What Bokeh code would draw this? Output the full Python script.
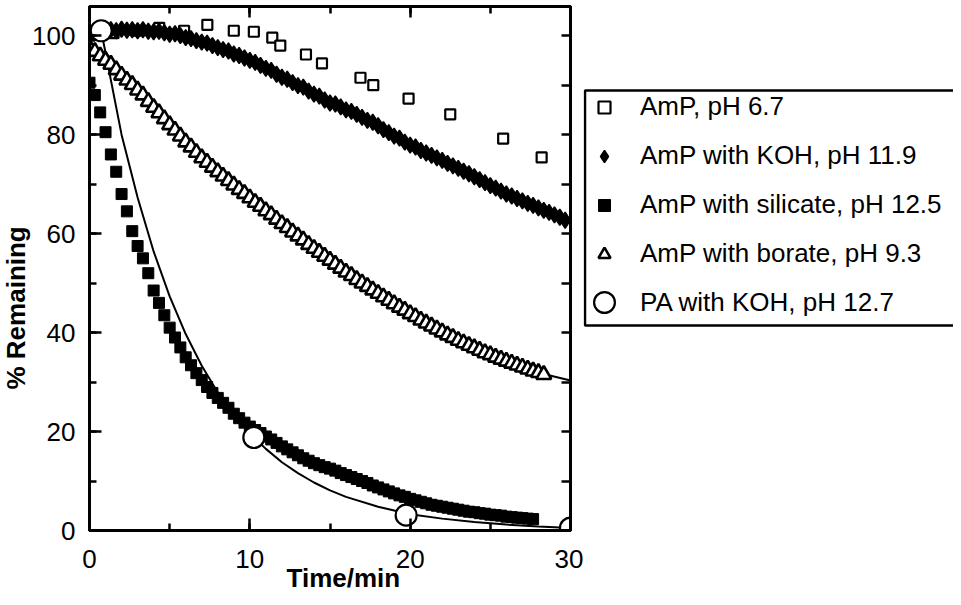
from bokeh.plotting import figure
from bokeh.layouts import row
from bokeh.models import (LinearAxis, SingleIntervalTicker, Legend, LegendItem, Title,
                          CustomJSTickFormatter, Range1d)
from bokeh.embed import file_html
from bokeh.resources import INLINE

FONT = "Liberation Sans"

# ---------------- data ----------------
# AmP, pH 6.7 (open squares, sparse)
time_amp = [0.0, 1.5, 2.9, 4.35, 5.9, 7.35, 9.0, 10.25, 11.4, 11.9, 13.5, 14.5,
            16.9, 17.7, 19.9, 22.5, 25.8, 28.2]
pct_amp = [100.0, 100.5, 101.0, 101.6, 101.0, 102.2, 101.0, 100.8, 99.6, 98.0, 96.2, 94.4,
           91.5, 90.0, 87.3, 84.1, 79.2, 75.4]

# sampling interval of the dense series (min)
SAMPLE_STEP = 1 / 3

# AmP with KOH, pH 11.9 (filled diamonds)
pct_koh = [100.0, 100.6, 100.9, 101.0, 101.2, 101.0, 101.3, 101.1, 101.2,
           101.0, 101.2, 100.9, 100.8, 100.9, 100.6, 100.3, 100.4, 100.0,
           99.6, 99.4, 99.0, 98.7, 98.5, 98.0, 97.6, 97.2, 96.9,
           96.3, 96.0, 95.5, 95.0, 94.6, 94.0, 93.4, 93.0, 92.2,
           91.6, 91.2, 90.5, 89.9, 89.6, 88.8, 88.2, 87.8, 87.0,
           86.4, 86.2, 85.6, 85.0, 84.7, 84.1, 83.5, 82.9, 82.5,
           81.8, 81.0, 80.4, 79.7, 79.3, 78.5, 77.9, 77.5, 76.8,
           76.3, 75.8, 75.3, 74.8, 74.2, 73.7, 73.2, 72.6, 72.1,
           71.5, 70.9, 70.3, 69.7, 69.2, 68.6, 68.0, 67.6, 67.1,
           66.6, 66.1, 65.7, 65.2, 64.7, 64.3, 63.8, 63.3, 62.7]

# AmP with silicate, pH 12.5 (filled squares)
pct_sil = [90.5, 88.0, 84.5, 80.5, 76.0, 72.5, 68.0, 64.5, 60.5,
           57.5, 55.0, 52.0, 48.5, 46.0, 43.5, 41.0, 39.0, 37.0,
           35.0, 33.4, 31.8, 30.4, 29.0, 27.8, 26.8, 25.8, 24.8,
           23.6, 22.7, 21.8, 21.0, 20.3, 19.7, 19.0, 18.4, 17.7,
           17.0, 16.4, 15.8, 15.2, 14.6, 14.1, 13.6, 13.2, 12.8,
           12.5, 12.1, 11.6, 11.2, 10.8, 10.4, 10.0, 9.6, 9.1,
           8.7, 8.3, 7.9, 7.5, 7.1, 6.8, 6.4, 6.1, 5.8,
           5.5, 5.2, 5.0, 4.8, 4.6, 4.4, 4.2, 4.0, 3.8,
           3.7, 3.5, 3.4, 3.2, 3.1, 3.0, 2.8, 2.7, 2.6,
           2.5, 2.4, 2.3]

# AmP with borate, pH 9.3 (open triangles)
pct_bor = [97.5, 96.8, 95.9, 95.0, 94.2, 93.1, 92.0, 91.0, 90.1,
           89.0, 88.0, 86.7, 85.5, 84.4, 83.2, 82.0, 80.9, 79.7,
           78.5, 77.5, 76.4, 75.3, 74.4, 73.4, 72.5, 71.6, 70.7,
           69.8, 68.9, 68.1, 67.2, 66.3, 65.5, 64.6, 63.8, 62.9,
           62.0, 61.2, 60.3, 59.5, 58.7, 57.8, 57.0, 56.2, 55.4,
           54.6, 53.8, 53.0, 52.2, 51.5, 50.7, 50.0, 49.3, 48.6,
           47.9, 47.2, 46.5, 45.8, 45.1, 44.5, 43.8, 43.2, 42.5,
           41.9, 41.3, 40.7, 40.1, 39.5, 39.0, 38.4, 37.9, 37.4,
           36.9, 36.4, 35.9, 35.5, 35.0, 34.6, 34.2, 33.8, 33.4,
           33.0, 32.6, 32.2, 31.9, 31.5]

# PA with KOH, pH 12.7 (large open circles)
time_pa = [0.73, 10.25, 19.75, 30.0]
pct_pa = [101.0, 18.8, 3.1, 0.5]

# fitted curves (solid lines)
time_fit_pa = [0.73, 2, 3, 4, 5, 6, 7, 8, 9, 10, 11, 12, 13, 14, 15, 16, 18, 20,
               22, 24, 26, 28, 30]
pct_fit_pa = [101.0, 80.0, 67.3, 56.4, 47.3, 39.7, 33.3, 27.9, 23.4, 19.6, 16.5, 13.8,
              11.6, 9.7, 8.1, 6.8, 4.8, 3.3, 2.4, 1.7, 1.2, 0.8, 0.5]
time_fit_bor = [0.7, 2, 4, 6, 8, 10, 12, 14, 16, 18, 20, 22, 24, 26, 28, 30]
pct_fit_bor = [97.0, 92.0, 85.5, 78.5, 72.5, 67.2, 62.0, 57.0, 52.2, 47.9, 43.8, 40.1,
               36.9, 34.2, 31.9, 30.3]

labels = ["AmP, pH 6.7", "AmP with KOH, pH 11.9", "AmP with silicate, pH 12.5",
          "AmP with borate, pH 9.3", "PA with KOH, pH 12.7"]
x_title = "Time/min"
y_title = "% Remaining"

# marker styles per series
STY_AMP = dict(marker="square", size=10, fill_color="white", line_color="black", line_width=2.2)
STY_KOH = dict(marker="diamond", size=16, fill_color="black", line_color="black", line_width=1.5)
STY_SIL = dict(marker="square", size=11, fill_color="black", line_color="black", line_width=1)
STY_BOR = dict(marker="triangle", size=15, fill_color="white", line_color="black", line_width=2.6)
STY_PA = dict(marker="circle", size=21, fill_color="white", line_color="black", line_width=2.2)


def times_for(values):
    return [round(i * SAMPLE_STEP, 3) for i in range(len(values))]


# ---------------- main figure ----------------
p = figure(width=583, height=597, x_range=Range1d(0, 30), y_range=Range1d(0, 105.9),
           output_backend="svg", toolbar_location=None,
           min_border_left=87, min_border_right=13, min_border_top=6, min_border_bottom=67)
p.xgrid.visible = False
p.ygrid.visible = False
p.outline_line_color = "black"
p.outline_line_width = 3
p.background_fill_color = "white"
p.border_fill_color = "white"


def style_axis(ax, tick_in, minor_in):
    ax.axis_line_width = 3
    ax.axis_line_color = "black"
    ax.major_tick_in = tick_in
    ax.major_tick_out = 0
    ax.minor_tick_in = minor_in
    ax.minor_tick_out = 0
    ax.major_tick_line_width = 2.5
    ax.minor_tick_line_width = 2.5
    ax.major_tick_line_color = "black"
    ax.minor_tick_line_color = "black"
    ax.major_label_text_font = FONT
    ax.major_label_text_font_size = "26px"
    ax.major_label_text_color = "black"


p.xaxis.ticker = SingleIntervalTicker(interval=10, num_minor_ticks=2)
p.yaxis.ticker = SingleIntervalTicker(interval=20, num_minor_ticks=2)
style_axis(p.xaxis[0], 12, 7)
style_axis(p.yaxis[0], 12, 7)
p.xaxis.major_label_standoff = 19
p.yaxis.major_label_standoff = 14

top_ax = LinearAxis(ticker=SingleIntervalTicker(interval=10, num_minor_ticks=2),
                    formatter=CustomJSTickFormatter(code="return ''"))
style_axis(top_ax, 11, 7)
top_ax.major_label_text_font_size = "1px"
top_ax.major_label_standoff = 0
p.add_layout(top_ax, "above")

right_ax = LinearAxis(ticker=SingleIntervalTicker(interval=10, num_minor_ticks=0),
                      formatter=CustomJSTickFormatter(code="return ''"))
style_axis(right_ax, 9, 0)
right_ax.major_label_text_font_size = "1px"
right_ax.major_label_standoff = 0
p.add_layout(right_ax, "right")

# fitted lines
p.line(time_fit_bor, pct_fit_bor, line_color="black", line_width=2)
p.line(time_fit_pa, pct_fit_pa, line_color="black", line_width=2)

p.scatter(time_amp, pct_amp, **STY_AMP)
p.scatter(times_for(pct_koh), pct_koh, **STY_KOH)
p.scatter(times_for(pct_bor), pct_bor, **STY_BOR)
p.scatter(times_for(pct_sil), pct_sil, **STY_SIL)
p.scatter(time_pa, pct_pa, **STY_PA)

p.add_layout(Title(text=x_title, align="left", offset=197, standoff=-16,
                   vertical_align="top", text_font=FONT, text_font_size="26px",
                   text_font_style="bold", text_color="black"), "below")
p.add_layout(Title(text=y_title, align="left", offset=141, standoff=-3,
                   vertical_align="bottom", text_font=FONT, text_font_size="26px",
                   text_font_style="bold", text_color="black"), "left")

# ---------------- legend panel ----------------
# In a row, this panel's frame is aligned with the main frame (page y 14..538);
# its ranges are set so that one data unit is one page pixel.
PX_LEFT, PX_RIGHT = 591, 961
FRAME_TOP, FRAME_BOTTOM = 14, 538
q = figure(width=PX_RIGHT - PX_LEFT, height=597,
           x_range=Range1d(PX_LEFT, PX_RIGHT), y_range=Range1d(FRAME_BOTTOM, FRAME_TOP),
           output_backend="svg", toolbar_location=None, x_axis_type=None, y_axis_type=None,
           min_border=0, min_border_left=0, min_border_right=0)
q.xgrid.visible = False
q.ygrid.visible = False
q.outline_line_color = None
q.background_fill_color = "white"
q.border_fill_color = "white"

# legend frame
q.quad(left=[592.5], right=[975], top=[98], bottom=[333],
       fill_color="white", line_color="black", line_width=2.5)

far = [-1000]
g_amp = q.scatter(far, far, **STY_AMP)
g_koh = q.scatter(far, far, **dict(STY_KOH, size=13))
g_sil = q.scatter(far, far, **STY_SIL)
g_bor = q.scatter(far, far, **STY_BOR)
g_pa = q.scatter(far, far, **STY_PA)


def make_legend(items, loc, glyph, standoff):
    lg = Legend(items=items, location=loc)
    lg.label_text_font = FONT
    lg.label_text_font_size = "26px"
    lg.label_text_color = "black"
    lg.label_height = 30
    lg.glyph_height = glyph
    lg.glyph_width = glyph
    lg.label_standoff = standoff
    lg.spacing = 18
    lg.padding = 0
    lg.margin = 0
    lg.border_line_color = None
    lg.background_fill_alpha = 0
    return lg


# locations: offset (px) of the legend's bottom-left from the panel frame's bottom-left
leg_a = make_legend([LegendItem(label=labels[0], renderers=[g_amp]),
                     LegendItem(label=labels[1], renderers=[g_koh]),
                     LegendItem(label=labels[2], renderers=[g_sil]),
                     LegendItem(label=labels[3], renderers=[g_bor])],
                    (2, 261), 30, 17)
leg_a.glyph_width = 38
leg_b = make_legend([LegendItem(label=labels[4], renderers=[g_pa])], (-5, 202), 52, 10)
q.add_layout(leg_a)
q.add_layout(leg_b)

layout = row(p, q, spacing=0)
open("out.html", "w").write(file_html(layout, INLINE))
